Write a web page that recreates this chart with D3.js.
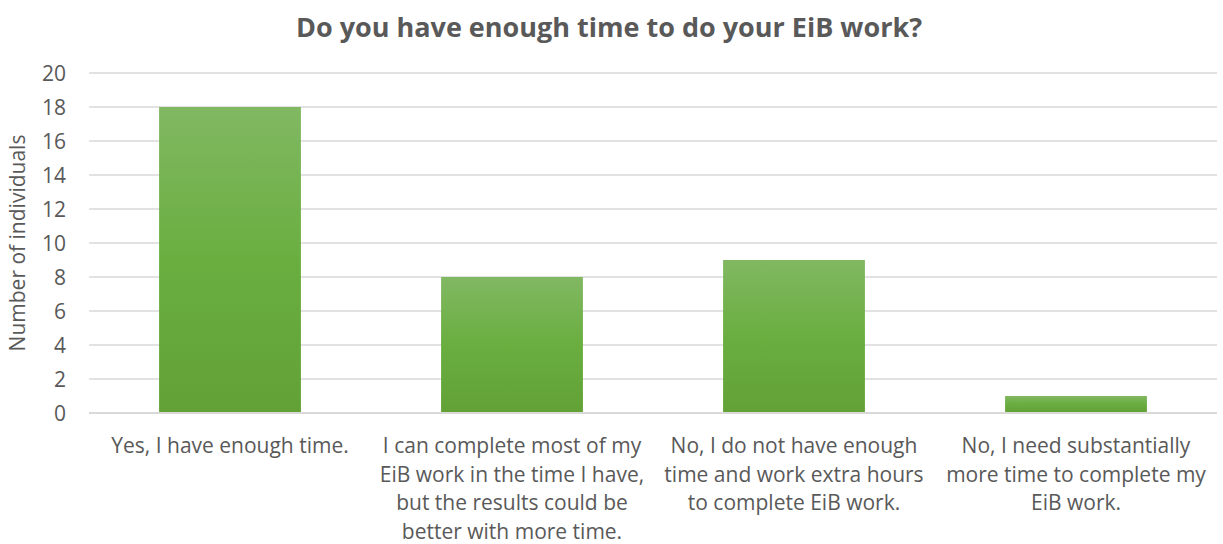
<!DOCTYPE html>
<html><head><meta charset="utf-8">
<script src="https://cdn.jsdelivr.net/npm/d3@7"></script>
<style>body{margin:0;background:#fff}text{font-family:"Open Sans",sans-serif;fill:#595959}</style>
</head><body>
<svg id="c" width="1223" height="544"></svg>
<script>
const categories = [
  ["Yes, I have enough time."],
  ["I can complete most of my", "EiB work in the time I have,", "but the results could be", "better with more time."],
  ["No, I do not have enough", "time and work extra hours", "to complete EiB work."],
  ["No, I need substantially", "more time to complete my", "EiB work."]
];
const values = [18, 8, 9, 1];
const yTicks = [0, 2, 4, 6, 8, 10, 12, 14, 16, 18, 20];
const title = "Do you have enough time to do your EiB work?";
const yTitle = "Number of individuals";

const svg = d3.select("#c");
const pLeft = 89, pRight = 1217, pTop = 73, pBottom = 413;
const x = d3.scaleBand().domain(d3.range(values.length)).range([pLeft, pRight]).paddingInner(0.497).paddingOuter(0.2485);
const y = d3.scaleLinear().domain([0, 20]).range([pBottom, pTop]);

const defs = svg.append("defs");
const g = defs.append("linearGradient").attr("id", "gr").attr("x1", 0).attr("y1", 0).attr("x2", 0).attr("y2", 1);
g.append("stop").attr("offset", "0%").attr("stop-color", "#81b862");
g.append("stop").attr("offset", "50%").attr("stop-color", "#6aae40");
g.append("stop").attr("offset", "100%").attr("stop-color", "#62a136");

// gridlines
svg.append("g").selectAll("line").data(yTicks).join("line")
  .attr("x1", pLeft).attr("x2", pRight)
  .attr("y1", d => y(d)).attr("y2", d => y(d))
  .attr("stroke", "#d9d9d9").attr("stroke-width", d => d === 0 ? 2 : 1.5);

// y tick labels
svg.append("g").selectAll("text").data(yTicks).join("text")
  .attr("x", 66).attr("y", d => y(d)).attr("dy", "0.36em")
  .attr("text-anchor", "end").attr("font-size", 21).text(d => d);

// bars
svg.append("g").selectAll("rect").data(values).join("rect")
  .attr("x", (d, i) => x(i)).attr("width", x.bandwidth())
  .attr("y", d => y(d)).attr("height", d => y(0) - y(d) - 1)
  .attr("fill", "url(#gr)");

// x labels
const xl = svg.append("g").selectAll("text").data(categories).join("text")
  .attr("text-anchor", "middle").attr("font-size", 21);
xl.each(function(lines, i) {
  const t = d3.select(this);
  lines.forEach((l, j) => t.append("tspan").attr("x", x(i) + x.bandwidth() / 2).attr("y", 453 + j * 28.5).text(l));
});

// title
svg.append("text").attr("x", 609).attr("y", 37).attr("text-anchor", "middle")
  .attr("font-size", 27).attr("font-weight", "bold").text(title);

// y title
svg.append("text").attr("transform", "translate(25,243) rotate(-90)")
  .attr("text-anchor", "middle").attr("font-size", 21).text(yTitle);
</script>
</body></html>
